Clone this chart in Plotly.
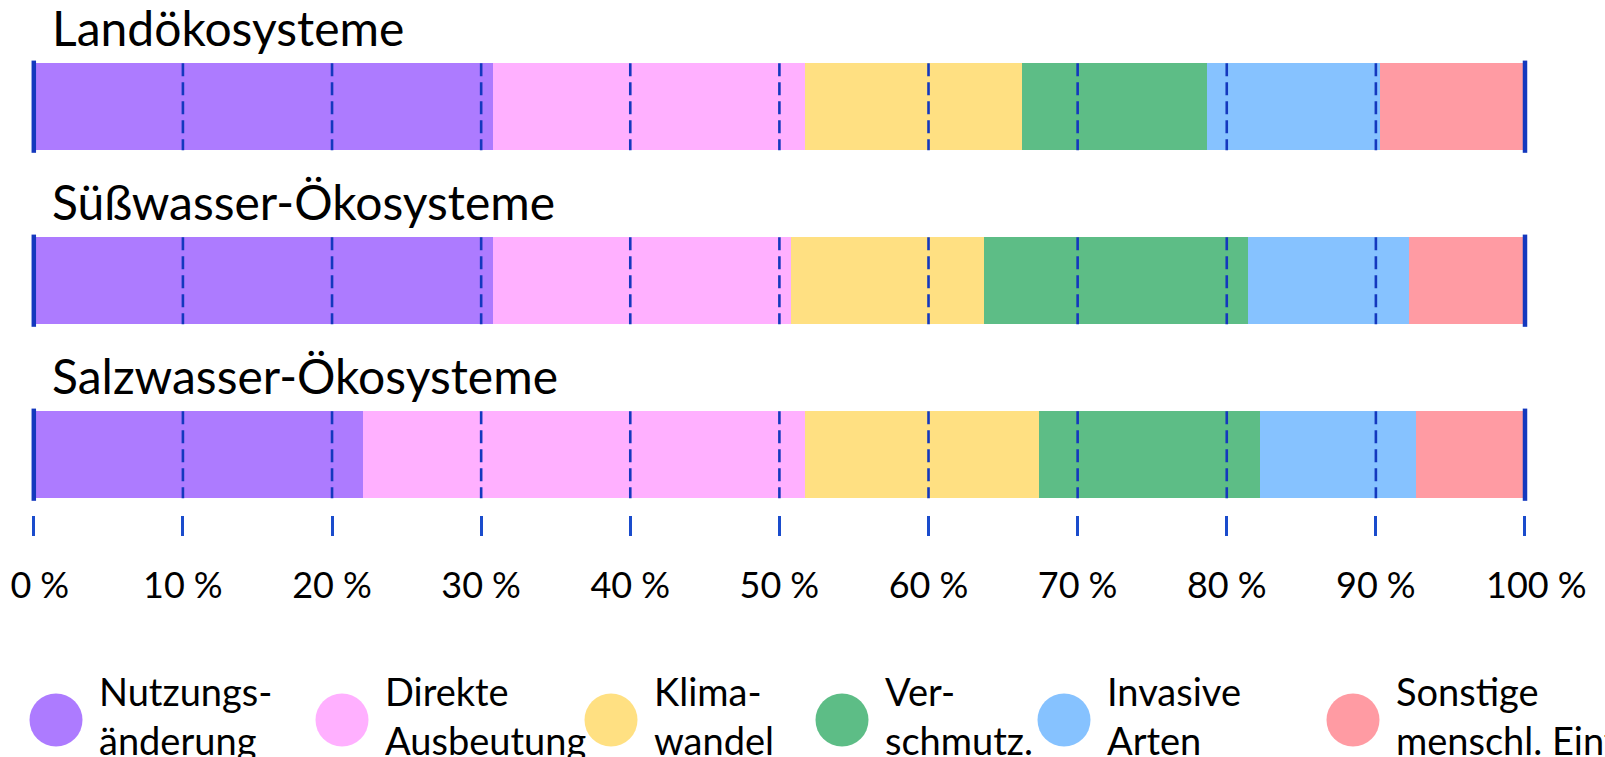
import plotly.graph_objects as go

# ---------------- data ----------------
ecosystems = ["Landökosysteme", "Süßwasser-Ökosysteme", "Salzwasser-Ökosysteme"]
drivers = ["Nutzungs-<br>änderung", "Direkte<br>Ausbeutung", "Klima-<br>wandel",
           "Ver-<br>schmutz.", "Invasive<br>Arten", "Sonstige<br>menschl. Einflüsse"]
colors = ["#AD7BFF", "#FFB0FF", "#FFE082", "#5DBD86", "#86C2FF", "#FF9BA3"]
# share of each driver (percent) for Land, Süßwasser, Salzwasser
nutzung = [30.8, 30.8, 22.1]
ausbeutung = [20.9, 20.0, 29.6]
klima = [14.6, 12.9, 15.7]
verschmutzung = [12.4, 17.7, 14.8]
invasive = [11.6, 10.8, 10.5]
sonstige = [9.7, 7.8, 7.3]
series = [nutzung, ausbeutung, klima, verschmutzung, invasive, sonstige]
tick_vals = [0, 10, 20, 30, 40, 50, 60, 70, 80, 90, 100]
tick_text = [f"{v}\u202f%" for v in tick_vals]

# ---------------- layout constants ----------------
W, H = 1605, 757
FONT = "Lato"
LINE_BLUE = "#1438BE"
TICK_BLUE = "#1A4CCC"
LEGEND_X = [56, 342, 611, 842, 1064, 1353]   # px positions of legend circles
LEGEND_Y = 720
X0_PX, X100_PX = 33.8, 1525.0
PAD = 1.0                                    # axis padding (percent units)
PPU = (X100_PX - X0_PX) / 100

# the outermost labels sit a little to the right of their ticks in the original
tick_text_disp = list(tick_text)
tick_text_disp[0] = "\u2006\u2006" + tick_text[0]
tick_text_disp[-1] = "\u2002\u2009" + tick_text[-1]

ypos = list(range(len(ecosystems)))
fig = go.Figure()

for name, vals, col in zip(drivers, series, colors):
    fig.add_trace(go.Bar(
        x=vals, y=ypos, orientation="h", name=name, width=0.5,
        marker=dict(color=col, line=dict(width=0)), showlegend=False,
    ))

# dashed inner grid lines only across the bars
dx, dy = [], []
for i in ypos:
    for v in tick_vals[1:-1]:
        dx += [v, v, None]
        dy += [i - 0.25, i + 0.25, None]
fig.add_trace(go.Scatter(x=dx, y=dy, mode="lines", showlegend=False, hoverinfo="skip",
                         line=dict(color=LINE_BLUE, width=2.6, dash="13px,6px")))

# solid edges at 0 % and 100 %
ex, ey = [], []
for i in ypos:
    for v in (tick_vals[0], tick_vals[-1]):
        ex += [v, v, None]
        ey += [i - 0.265, i + 0.265, None]
fig.add_trace(go.Scatter(x=ex, y=ey, mode="lines", showlegend=False, hoverinfo="skip",
                         line=dict(color=LINE_BLUE, width=4.5)))

# ecosystem titles
for i, name in enumerate(ecosystems):
    fig.add_annotation(text=name, xref="paper", yref="y", x=50 / W, y=i - 0.25,
                       xanchor="left", yanchor="bottom", yshift=5, showarrow=False,
                       font=dict(family=FONT, size=48, color="#000000"))

# custom legend on an auxiliary pixel axis
fig.add_trace(go.Scatter(
    x=LEGEND_X, y=[LEGEND_Y] * len(LEGEND_X), mode="markers", xaxis="x2", yaxis="y2",
    marker=dict(size=53, color=colors, line=dict(width=0)), showlegend=False, hoverinfo="skip",
))
for lx, name in zip(LEGEND_X, drivers):
    fig.add_annotation(text=name, xref="x2", yref="y2", x=lx + 41, y=LEGEND_Y - 5,
                       xanchor="left", yanchor="middle", align="left", showarrow=False,
                       font=dict(family=FONT, size=38, color="#000000"))

fig.update_layout(
    width=W, height=H, margin=dict(l=0, r=0, t=0, b=0, autoexpand=False),
    paper_bgcolor="white", plot_bgcolor="rgba(0,0,0,0)",
    barmode="stack", bargap=0.5, showlegend=False,
    font=dict(family=FONT, color="#000000"),
    xaxis=dict(domain=[(X0_PX - PAD * PPU) / W, (X100_PX + PAD * PPU) / W],
               range=[-PAD, 100 + PAD], anchor="free", automargin=False,
               position=1 - 515 / H, side="bottom",
               tickmode="array", tickvals=tick_vals, ticktext=tick_text_disp,
               ticks="outside", ticklen=20, tickwidth=2.5, tickcolor=TICK_BLUE,
               tickfont=dict(family=FONT, size=36, color="#000000"),
               ticklabelstandoff=19, ticklabeloverflow="allow",
               showgrid=False, zeroline=False, showline=False, fixedrange=True),
    yaxis=dict(domain=[0, 1], range=[(H - 106.7) / 174, -106.7 / 174], automargin=False,
               showticklabels=False, showgrid=False, zeroline=False, showline=False,
               fixedrange=True),
    xaxis2=dict(domain=[0, 1], range=[0, W], anchor="y2", visible=False, fixedrange=True,
                automargin=False),
    yaxis2=dict(domain=[0, 1], range=[H, 0], anchor="x2", visible=False, fixedrange=True,
                automargin=False),
)

fig.write_html("out.html")
